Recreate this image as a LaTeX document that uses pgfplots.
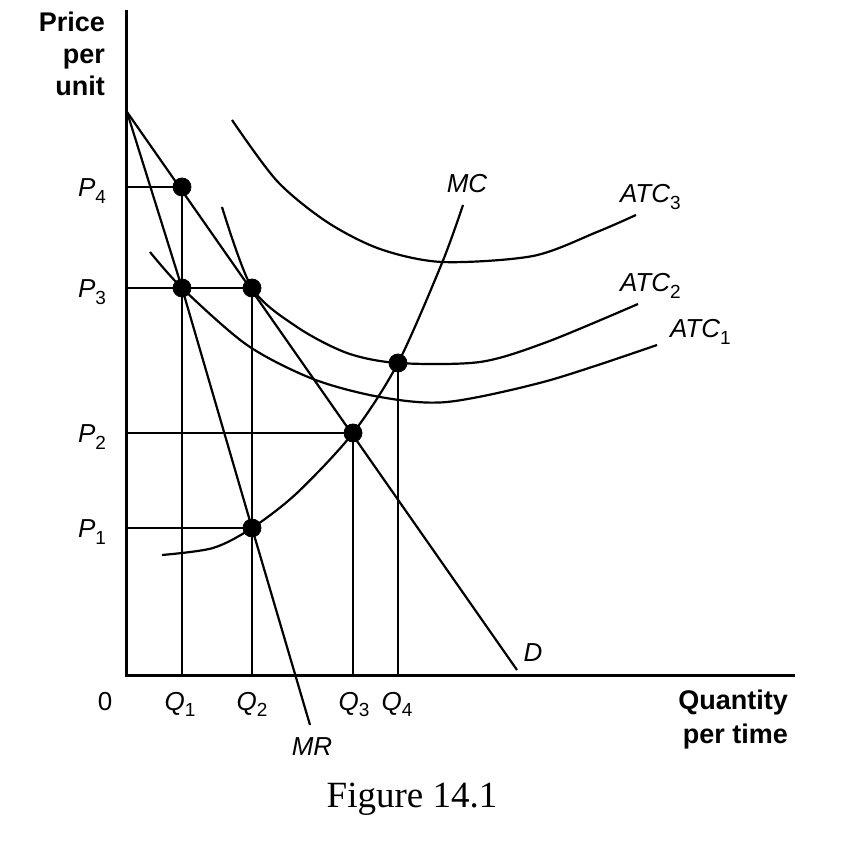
\documentclass[border=0pt]{standalone}
\usepackage{pgfplots}
\pgfplotsset{compat=1.18}
\usepackage{fontspec}
\setmainfont{Liberation Sans}
\newfontfamily\figfont{Liberation Serif}
\newcommand{\lab}[2]{{\fontsize{13}{13}\selectfont\itshape #1}\raisebox{-0.6ex}{\fontsize{9.5}{9.5}\selectfont #2}}
\newcommand{\itl}[1]{{\fontsize{13}{13}\selectfont\itshape #1}}
\begin{document}
\begin{tikzpicture}
\begin{axis}[
  x=0.5pt, y=0.5pt,
  xmin=0, xmax=668, ymin=0, ymax=665,
  hide axis, clip=false,
  every node/.append style={inner sep=0pt},
]
% invisible frame for page size
\path (axis cs:-127,-180) rectangle (axis cs:728,675);
% axes
\addplot[line width=1.5pt, black] coordinates {(0,665) (0,0) (668,0)};
% demand
\addplot[line width=1.1pt, black] coordinates {(0,563) (390,5)};
% marginal revenue
\addplot[line width=1.1pt, black] coordinates {(0,563) (55,387) (125,147) (183,-50)};
% ATC3
\addplot[line width=1.1pt, black, smooth] coordinates {(105,555) (150,494) (200,453) (253,426) (315,413) (406,419) (470,443) (509,460)};
% ATC2
\addplot[line width=1.1pt, black, smooth] coordinates {(95,468) (125,387) (170,348) (220,322) (271,312) (353,313) (420,333) (511,371)};
% ATC1
\addplot[line width=1.1pt, black, smooth] coordinates {(23,423) (55,387) (120,330) (186,296) (253,278) (320,273) (420,294) (530,330)};
% MC
\addplot[line width=1.1pt, black, smooth] coordinates {(35,120) (86,127) (125,147) (170,182) (226,242) (271,312) (315,412) (336,470)};
% guide lines
\addplot[line width=1.4pt, black] coordinates {(0,488) (55,488) (55,0)};
\addplot[line width=1.4pt, black] coordinates {(0,387) (125,387) (125,0)};
\addplot[line width=1.4pt, black] coordinates {(0,242) (226,242) (226,0)};
\addplot[line width=1.4pt, black] coordinates {(0,147) (125,147)};
\addplot[line width=1.4pt, black] coordinates {(271,312) (271,0)};
% dots
\addplot[only marks, mark=*, mark size=4.5pt, black] coordinates {(55,488) (55,387) (125,387) (226,242) (125,147) (271,312)};
% labels
\node[anchor=east, align=right, font=\fontsize{13.5}{16}\selectfont\bfseries] at (axis cs:-15,621) {Price\\per\\unit};
\node[anchor=east, align=right, font=\fontsize{13.5}{17}\selectfont\bfseries] at (axis cs:668,-45) {Quantity\\per time};
\node[anchor=base east] at (axis cs:-14,478) {\lab{P}{4}};
\node[anchor=base east] at (axis cs:-14,377) {\lab{P}{3}};
\node[anchor=base east] at (axis cs:-14,232) {\lab{P}{2}};
\node[anchor=base east] at (axis cs:-14,137) {\lab{P}{1}};
\node[anchor=base] at (axis cs:-22,-35) {\fontsize{13}{13}\selectfont 0};
\node[anchor=base] at (axis cs:53,-35) {\lab{Q}{1}};
\node[anchor=base] at (axis cs:125,-35) {\lab{Q}{2}};
\node[anchor=base] at (axis cs:227,-35) {\lab{Q}{3}};
\node[anchor=base] at (axis cs:270,-35) {\lab{Q}{4}};
\node[anchor=base] at (axis cs:185,-80) {\itl{MR}};
\node[anchor=base] at (axis cs:406,13) {\itl{D}};
\node[anchor=base] at (axis cs:340,482) {\itl{MC}};
\node[anchor=base west] at (axis cs:486,472) {\lab{ATC}{3}};
\node[anchor=base west] at (axis cs:486,383) {\lab{ATC}{2}};
\node[anchor=base west] at (axis cs:536,337) {\lab{ATC}{1}};
\node[anchor=base] at (axis cs:285,-132) {\figfont\fontsize{18.5}{18.5}\selectfont Figure 14.1};
\end{axis}
\end{tikzpicture}
\end{document}
